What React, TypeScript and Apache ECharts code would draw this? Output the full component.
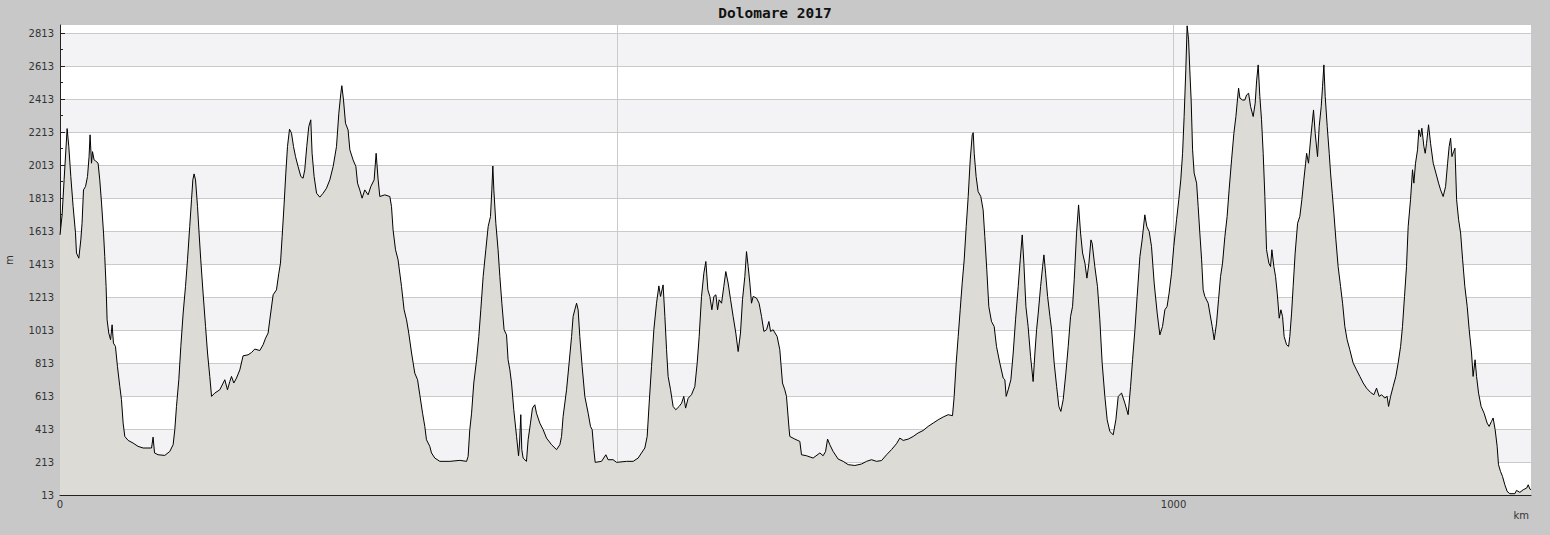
import React, { useEffect, useRef } from "react";
import * as echarts from "echarts";

const TITLE = "Dolomare 2017";
const X_NAME = "km";
const Y_NAME = "m";

const yTickValues = [13, 213, 413, 613, 813, 1013, 1213, 1413, 1613, 1813, 2013, 2213, 2413, 2613, 2813];
const yMinorTickValues = [113, 313, 513, 713, 913, 1113, 1313, 1513, 1713, 1913, 2113, 2313, 2513, 2713];
const xTickValues = [0, 100, 200, 300, 400, 500, 600, 700, 800, 900, 1000, 1100, 1200, 1300];
const xLabelValues = [0, 1000];
const xGridValues = [500, 1000];

// [km, elevation m]
const section0to200 = [
  [0, 1590], [1.9, 1712], [3.7, 1925], [6.4, 2235], [7.9, 2126], [9.7, 1944], [11.8, 1762], [13.9, 1603], [14.8, 1480], [16.9, 1449],
  [18.7, 1560], [19.8, 1661], [21.1, 1863], [22.9, 1883], [24.7, 1944], [26.1, 2065], [27.0, 2197], [28.3, 2025], [29.2, 2095], [30.6, 2045],
  [31.9, 2039], [34.2, 2025], [35.7, 1924], [37.3, 1783], [39.1, 1601], [40.2, 1459], [41.4, 1277], [42.3, 1075], [43.8, 995], [45.4, 955],
  [46.8, 1045], [48.0, 934], [49.8, 914], [51.6, 792], [53.7, 671], [55.2, 591], [56.7, 449], [58.2, 368], [61.2, 344], [65.6, 328],
  [70.1, 308], [74.6, 298], [82.2, 298], [83.6, 364], [84.9, 268], [88.1, 257], [94.1, 253], [98.6, 277], [101.6, 318], [103.1, 409],
  [104.6, 550], [106.7, 712], [108.5, 914], [110.6, 1116], [112.7, 1277], [114.5, 1439], [116.5, 1641], [118.1, 1803], [119.3, 1924], [120.4, 1960],
  [121.7, 1924], [123.5, 1762], [124.9, 1601], [126.4, 1439], [128.5, 1237], [130.7, 1035], [132.5, 874], [134.5, 732], [136.1, 611], [139.0, 631],
  [143.5, 651], [148.0, 712], [150.4, 651], [152.5, 701], [154.0, 732], [156.1, 692], [158.5, 722], [161.5, 772], [164.4, 857], [168.9, 863],
  [172.0, 877], [174.9, 898], [179.4, 889], [182.4, 924], [184.6, 964], [186.9, 995], [188.4, 1075], [191.4, 1227], [194.4, 1257], [196.5, 1358],
  [198.0, 1419], [199.5, 1580],
];

const section200to400 = [
  [201.3, 1783], [202.8, 1965], [204.3, 2126], [206.1, 2231], [207.9, 2207], [209.7, 2126], [211.5, 2065], [213.8, 2005], [216.3, 1944], [218.3, 1934],
  [219.8, 1985], [221.6, 2126], [223.4, 2247], [225.2, 2288], [226.4, 2085], [228.2, 1944], [230.4, 1843], [233.3, 1819], [236.3, 1843], [239.3, 1873],
  [242.3, 1924], [245.3, 2005], [248.3, 2126], [250.4, 2328], [252.2, 2449], [253.1, 2495], [254.6, 2408], [256.4, 2267], [258.7, 2227], [260.3, 2106],
  [263.2, 2045], [265.7, 2005], [267.2, 1904], [269.2, 1863], [271.3, 1813], [273.7, 1863], [276.7, 1833], [279.1, 1883], [282.1, 1924], [283.9, 2085],
  [285.7, 1924], [287.2, 1823], [291.7, 1833], [296.2, 1823], [297.7, 1762], [299.1, 1621], [301.3, 1500], [303.6, 1439], [306.7, 1277], [309.0, 1136],
  [311.2, 1075], [313.2, 995], [315.7, 874], [318.6, 752], [321.1, 712], [323.1, 621], [325.6, 509], [327.6, 429], [329.1, 348], [332.1, 308],
  [333.6, 268], [336.6, 237], [341.1, 217], [350.1, 217], [359.1, 223], [365.1, 217], [366.5, 247], [368.0, 409], [369.6, 509], [371.6, 692],
  [374.1, 833], [376.1, 974], [377.9, 1136], [380.0, 1338], [382.4, 1500], [384.5, 1641], [386.6, 1702], [387.8, 1863], [388.7, 2008], [389.6, 1863],
  [391.4, 1661], [393.4, 1500], [395.0, 1338], [396.8, 1176], [398.8, 1015],
];

const section400to600 = [
  [401.0, 984], [402.4, 833], [404.0, 772], [405.5, 692], [407.5, 530], [410.0, 368], [411.8, 251], [412.7, 328], [413.8, 500], [414.7, 288],
  [415.9, 237], [418.9, 217], [420.4, 348], [422.5, 449], [424.3, 540], [426.4, 560], [427.9, 509], [430.9, 449], [433.9, 409], [436.9, 358],
  [441.4, 318], [445.9, 288], [448.9, 318], [450.4, 368], [451.8, 489], [454.9, 651], [457.2, 813], [459.4, 974], [460.8, 1095], [462.3, 1136],
  [463.9, 1176], [465.3, 1136], [466.8, 974], [468.9, 792], [471.3, 611], [474.3, 509], [476.4, 429], [477.9, 409], [479.4, 288], [480.6, 211],
  [486.3, 217], [490.2, 257], [492.2, 227], [496.7, 227], [499.8, 211], [508.8, 217], [514.7, 217], [519.2, 237], [522.2, 268], [525.2, 298],
  [527.3, 368], [529.1, 570], [531.2, 792], [533.3, 1015], [535.7, 1176], [537.8, 1281], [539.3, 1217], [541.6, 1287], [543.2, 1095], [544.7, 894],
  [546.1, 732], [548.3, 651], [550.6, 550], [553.0, 530], [556.0, 550], [558.2, 570], [560.2, 611], [561.8, 540], [564.1, 600], [567.1, 621],
  [570.1, 671], [572.2, 813], [574.0, 974], [576.1, 1217], [578.2, 1358], [580.0, 1429], [581.8, 1257], [583.6, 1217], [585.4, 1136], [587.2, 1217],
  [589.0, 1227], [590.5, 1136], [591.9, 1197], [594.1, 1176], [596.1, 1277], [597.9, 1368], [600.0, 1298],
];

const section600to800 = [
  [602.2, 1197], [604.5, 1095], [606.9, 995], [609.0, 883], [611.1, 995], [612.9, 1197], [615.0, 1338], [616.5, 1489], [618.0, 1398], [619.5, 1298],
  [621.0, 1176], [622.5, 1217], [625.5, 1207], [627.8, 1176], [630.0, 1095], [632.1, 1005], [634.5, 1015], [636.6, 1065], [638.1, 1005], [640.4, 1015],
  [644.0, 974], [646.4, 894], [648.8, 692], [650.9, 651], [652.4, 611], [654.8, 409], [655.4, 368], [659.9, 352], [664.4, 338], [665.9, 257],
  [670.4, 251], [676.3, 237], [682.4, 268], [685.3, 251], [687.5, 277], [689.3, 352], [691.3, 318], [694.3, 277], [698.8, 231], [703.3, 217],
  [707.8, 197], [713.8, 192], [719.8, 201], [724.3, 217], [728.8, 227], [733.3, 217], [737.8, 222], [742.3, 257], [746.7, 288], [751.2, 324],
  [754.2, 358], [757.2, 344], [761.7, 352], [766.2, 368], [770.6, 389], [775.1, 404], [779.6, 429], [784.1, 449], [788.6, 469], [793.1, 486],
  [797.6, 500],
];

const section800to1000 = [
  [801.5, 494], [803.0, 611], [804.8, 813], [806.6, 974], [808.4, 1136], [810.2, 1298], [812.0, 1439], [813.8, 1641], [815.6, 1823], [817.4, 2045],
  [819.2, 2197], [820.1, 2210], [821.0, 2085], [822.7, 1944], [824.5, 1853], [826.9, 1823], [829.0, 1742], [830.5, 1580], [832.3, 1378], [834.1, 1156],
  [836.5, 1065], [838.9, 1035], [841.0, 914], [844.0, 813], [847.0, 722], [848.5, 712], [849.7, 611], [851.5, 651], [853.9, 712], [856.0, 874],
  [858.1, 1075], [860.5, 1277], [862.3, 1439], [864.1, 1590], [865.6, 1419], [867.4, 1156], [869.4, 1035], [871.6, 853], [873.9, 701], [875.5, 874],
  [877.0, 1015], [878.5, 1116], [880.6, 1277], [882.4, 1398], [883.6, 1469], [885.1, 1358], [886.9, 1217], [889.0, 1095], [890.5, 1015], [892.8, 813],
  [895.0, 671], [897.0, 550], [898.8, 520], [900.9, 591], [903.3, 752], [905.4, 914], [907.5, 1095], [909.3, 1156], [910.8, 1318], [912.9, 1601],
  [914.7, 1772], [916.5, 1601], [918.3, 1480], [920.4, 1419], [922.2, 1328], [924.0, 1419], [925.8, 1560], [926.9, 1540], [929.3, 1398], [931.7, 1277],
  [933.8, 1075], [935.9, 813], [938.3, 611], [940.4, 469], [942.8, 398], [945.8, 378], [948.2, 469], [950.3, 611], [953.3, 631], [956.3, 570],
  [959.2, 500], [961.4, 671], [963.2, 833], [965.3, 1015], [967.3, 1217], [969.8, 1459], [971.8, 1560], [974.2, 1712], [976.0, 1641], [978.1, 1611],
  [980.2, 1520], [982.6, 1298], [985.3, 1116], [987.7, 984], [990.1, 1035], [992.2, 1136], [994.2, 1156], [996.0, 1237], [998.2, 1358],
];

const section1000to1100 = [
  [1000.2, 1520], [1002.7, 1682], [1004.7, 1803], [1006.5, 1924], [1008.1, 2085], [1009.5, 2308], [1011.0, 2590], [1012.2, 2858], [1013.5, 2773], [1014.6, 2590],
  [1015.8, 2408], [1017.1, 2106], [1018.5, 1965], [1020.7, 1904], [1022.1, 1762], [1023.6, 1601], [1025.2, 1439], [1026.6, 1257], [1028.1, 1217], [1031.1, 1176],
  [1032.6, 1116], [1034.7, 1035], [1036.5, 954], [1038.6, 1055], [1040.4, 1197], [1042.2, 1338], [1044.0, 1419], [1046.1, 1580], [1048.1, 1702], [1049.9, 1863],
  [1052.1, 2045], [1054.2, 2207], [1056.0, 2308], [1057.1, 2389], [1058.4, 2480], [1059.6, 2419], [1062.0, 2408], [1064.0, 2408], [1065.6, 2439], [1067.4, 2449],
  [1069.2, 2368], [1071.5, 2308], [1073.3, 2389], [1074.6, 2524], [1076.0, 2621], [1077.5, 2429], [1079.0, 2288], [1080.5, 2085], [1082.0, 1823], [1083.5, 1500],
  [1085.6, 1419], [1087.1, 1398], [1088.3, 1500], [1090.1, 1398], [1091.6, 1338], [1093.1, 1237], [1094.9, 1085], [1096.4, 1136], [1097.9, 1095], [1099.3, 974],
];

const section1100to1200 = [
  [1101.5, 924], [1103.3, 914], [1104.4, 974], [1106.0, 1116], [1107.4, 1277], [1109.2, 1480], [1111.4, 1661], [1113.4, 1702], [1115.2, 1803], [1117.0, 1924],
  [1118.6, 2025], [1119.5, 2085], [1121.2, 2025], [1123.0, 2166], [1124.5, 2267], [1125.7, 2348], [1127.2, 2207], [1129.3, 2065], [1130.8, 2247], [1132.6, 2368],
  [1133.8, 2489], [1135.0, 2621], [1136.2, 2429], [1138.0, 2247], [1139.8, 2085], [1141.0, 1965], [1142.5, 1843], [1144.0, 1722], [1145.8, 1560], [1147.8, 1398],
  [1150.0, 1277], [1151.8, 1176], [1153.8, 1035], [1155.9, 954], [1158.3, 894], [1161.3, 813], [1164.3, 772], [1167.3, 732], [1170.3, 692], [1173.3, 661],
  [1176.9, 635], [1179.9, 621], [1182.3, 661], [1184.6, 611], [1186.8, 621], [1189.7, 601], [1191.8, 611], [1193.1, 550], [1194.9, 611], [1197.2, 671],
  [1199.6, 732],
];

const section1200toEnd = [
  [1201.7, 813], [1203.9, 914], [1205.6, 1035], [1207.4, 1217], [1209.2, 1398], [1210.7, 1641], [1212.8, 1803], [1214.6, 1985], [1215.8, 1904], [1217.3, 2025],
  [1219.1, 2106], [1220.3, 2227], [1221.8, 2186], [1223.0, 2237], [1224.8, 2126], [1226.0, 2085], [1227.2, 2146], [1229.0, 2258], [1230.8, 2146], [1233.2, 2025],
  [1235.6, 1965], [1238.0, 1904], [1239.8, 1863], [1242.1, 1823], [1244.3, 1883], [1246.1, 2025], [1247.5, 2126], [1248.8, 2176], [1250.0, 2065], [1251.5, 2095],
  [1252.7, 2116], [1254.2, 1803], [1256.0, 1682], [1257.8, 1601], [1259.6, 1439], [1261.6, 1277], [1263.7, 1156], [1265.5, 1015], [1267.6, 874], [1269.0, 732],
  [1270.8, 833], [1272.1, 732], [1273.9, 631], [1276.2, 550], [1278.9, 509], [1281.6, 449], [1283.4, 429], [1285.5, 459], [1287.0, 480], [1288.8, 409],
  [1290.6, 308], [1291.8, 197], [1293.6, 156], [1295.4, 126], [1297.5, 75], [1299.6, 35], [1302.0, 21], [1306.5, 21], [1308.0, 41], [1311.0, 29],
  [1314.0, 45], [1317.1, 55], [1318.5, 75], [1320.0, 49], [1321.0, 45],
];

const X_MAX = 1321;
const Y_MIN = 13;
const Y_MAX = 2863;

const profile = [
  ...section0to200,
  ...section200to400,
  ...section400to600,
  ...section600to800,
  ...section800to1000,
  ...section1000to1100,
  ...section1100to1200,
  ...section1200toEnd,
];

const AXIS_FONT = "DejaVu Sans";
const AXIS_COLOR = "#222222";
const LABEL_COLOR = "#333333";
const plainNumber = (v: number) => String(v);

export default function App() {
  const ref = useRef<HTMLDivElement>(null);

  useEffect(() => {
    document.body.style.margin = "0";
    const chart = echarts.init(ref.current as HTMLDivElement, null, { renderer: "svg" });
    chart.setOption({
      animation: false,
      backgroundColor: "#c8c8c8",
      title: {
        text: TITLE,
        left: "center",
        top: 5,
        padding: 0,
        textStyle: {
          fontFamily: "DejaVu Sans Mono",
          fontWeight: "bold",
          fontSize: 14.5,
          color: "#111111",
        },
      },
      grid: {
        left: 60,
        right: 19,
        top: 25,
        bottom: 40,
        show: true,
        backgroundColor: "#ffffff",
        borderWidth: 0,
        containLabel: false,
        outerBoundsMode: "none",
      },
      xAxis: [
        {
          type: "value",
          min: 0,
          max: X_MAX,
          position: "bottom",
          name: X_NAME,
          nameLocation: "end",
          nameGap: -2,
          nameTextStyle: {
            fontFamily: AXIS_FONT,
            fontSize: 10,
            color: LABEL_COLOR,
            align: "right",
            verticalAlign: "top",
            padding: [15, 0, 0, 0],
          },
          axisLine: { show: true, onZero: false, lineStyle: { color: AXIS_COLOR, width: 1 } },
          axisTick: { show: true, inside: true, length: 4, customValues: xTickValues, lineStyle: { color: AXIS_COLOR } },
          axisLabel: {
            show: true,
            customValues: xLabelValues,
            formatter: plainNumber,
            margin: 4,
            fontFamily: AXIS_FONT,
            fontSize: 10,
            color: LABEL_COLOR,
          },
          splitLine: { show: false },
        },
        {
          type: "value",
          min: 0,
          max: X_MAX,
          position: "top",
          axisLine: { show: false },
          axisTick: { show: false, customValues: xGridValues },
          axisLabel: { show: false },
          splitLine: { show: true, lineStyle: { color: "#cacaca", width: 1 } },
        },
      ],
      yAxis: [
        {
          type: "value",
          min: Y_MIN,
          max: Y_MAX,
          position: "left",
          name: Y_NAME,
          nameLocation: "middle",
          nameGap: 46,
          nameRotate: 90,
          nameTextStyle: { fontFamily: AXIS_FONT, fontSize: 10, color: LABEL_COLOR },
          axisLine: { show: true, lineStyle: { color: AXIS_COLOR, width: 1 } },
          axisTick: { show: true, inside: true, length: 5, customValues: yTickValues, lineStyle: { color: AXIS_COLOR } },
          axisLabel: {
            show: true,
            customValues: yTickValues,
            formatter: plainNumber,
            margin: 6,
            fontFamily: AXIS_FONT,
            fontSize: 10,
            color: LABEL_COLOR,
          },
          splitLine: { show: true, lineStyle: { color: "#cacaca", width: 1 } },
          splitArea: { show: true, areaStyle: { color: ["#ffffff", "#f3f2f5"] } },
        },
        {
          type: "value",
          min: Y_MIN,
          max: Y_MAX,
          position: "left",
          offset: 0,
          axisLine: { show: false },
          axisTick: { show: true, inside: true, length: 3, customValues: yMinorTickValues, lineStyle: { color: AXIS_COLOR } },
          axisLabel: { show: false },
          splitLine: { show: false },
          splitArea: { show: false },
        },
      ],
      series: [
        {
          type: "line",
          xAxisIndex: 0,
          yAxisIndex: 0,
          data: profile,
          symbol: "none",
          showSymbol: false,
          silent: true,
          lineStyle: { color: "#000000", width: 1 },
          areaStyle: { color: "#dcdbd6", origin: "start", opacity: 1 },
        },
      ],
    });
    return () => chart.dispose();
  }, []);

  return <div ref={ref} style={{ width: 1550, height: 535 }} />;
}
